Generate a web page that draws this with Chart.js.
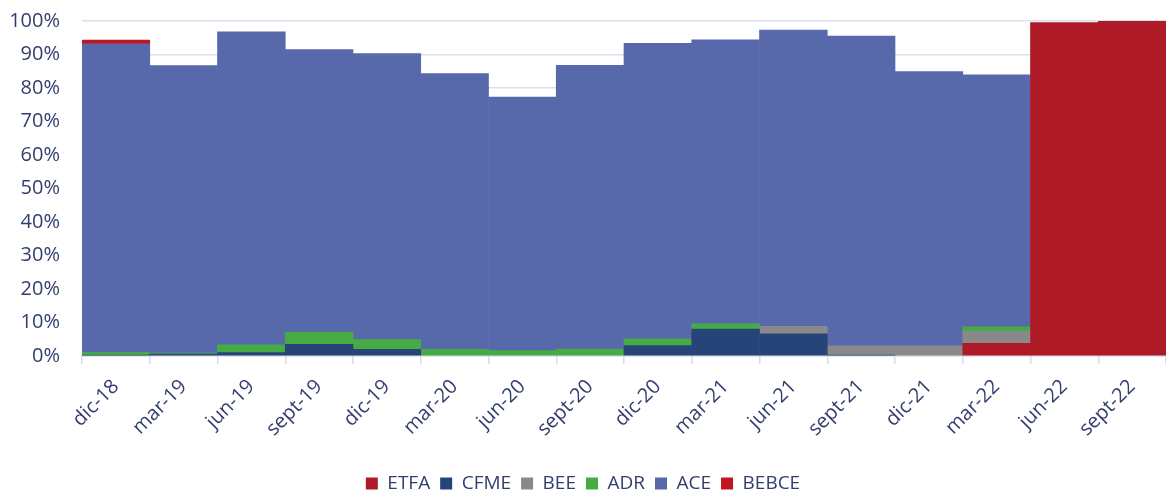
<!DOCTYPE html>
<html>
<head>
<meta charset="utf-8">
<script src="https://cdn.jsdelivr.net/npm/chart.js@4"></script>
<style>
  html, body { margin: 0; padding: 0; background: #fff; }
  #wrap { width: 1166px; height: 494px; }
</style>
</head>
<body>
<div id="wrap"><canvas id="chart"></canvas></div>
<script>
// Data (percent of total)
const categories = ['dic-18', 'mar-19', 'jun-19', 'sept-19', 'dic-19', 'mar-20', 'jun-20', 'sept-20',
  'dic-20', 'mar-21', 'jun-21', 'sept-21', 'dic-21', 'mar-22', 'jun-22', 'sept-22'];

const etfa  = [null, null, null, null, null, null, null, null, null, null, null, null, null, 3.8, 99.5, 99.9];
const cfme  = [0.3, 0.6, 1.0, 3.5, 2.0, null, null, null, 3.1, 8.0, 6.6, 0.3, null, null, null, null];
const bee   = [null, null, null, null, null, null, null, null, null, null, 2.2, 2.7, 3.0, 3.6, null, null];
const adr   = [0.8, 0.3, 2.3, 3.6, 2.9, 2.0, 1.6, 2.1, 2.0, 1.6, null, null, null, 1.3, null, null];
const ace   = [92.1, 85.8, 93.5, 84.4, 85.4, 82.3, 75.7, 84.7, 88.2, 84.8, 88.5, 92.5, 81.9, 75.2, null, null];
const bebce = [1.1, null, null, null, null, null, null, null, null, null, null, null, null, null, null, null];

const yTicks = [0, 10, 20, 30, 40, 50, 60, 70, 80, 90, 100];

const textColor = '#333e6e';
const fontFamily = "'Open Sans', 'Noto Sans', sans-serif";

const makeSet = (label, data, color) => ({
  label: label,
  data: data,
  backgroundColor: color,
  borderWidth: 0,
  categoryPercentage: 1.0,
  barPercentage: 1.0,
});

const ctx = document.getElementById('chart').getContext('2d');

const myChart = new Chart(ctx, {
  type: 'bar',
  data: {
    labels: categories,
    datasets: [
      makeSet('ETFA', etfa, '#ae1a25'),
      makeSet('CFME', cfme, '#264478'),
      makeSet('BEE', bee, '#898989'),
      makeSet('ADR', adr, '#46ab45'),
      makeSet('ACE', ace, '#5869ab'),
      makeSet('BEBCE', bebce, '#c0161f'),
    ],
  },
  options: {
    responsive: true,
    maintainAspectRatio: false,
    animation: false,
    layout: {
      padding: { left: 0, right: 0, top: 21, bottom: -9 },
    },
    plugins: {
      legend: {
        position: 'bottom',
        labels: {
          boxWidth: 12,
          boxHeight: 12,
          padding: 10,
          color: textColor,
          font: { family: fontFamily, size: 19 },
        },
      },
      tooltip: { enabled: false },
    },
    scales: {
      x: {
        stacked: true,
        afterFit: (scale) => {
          scale.paddingLeft = 0;
          scale.paddingRight = 0;
          scale.height = 108;
        },
        grid: {
          offset: true,
          drawOnChartArea: false,
          drawTicks: true,
          tickLength: 8,
          color: '#d6daea',
          lineWidth: 1.5,
        },
        border: { color: '#d6daea', width: 1.5 },
        ticks: {
          color: textColor,
          font: { family: fontFamily, size: 20 },
          minRotation: 45,
          maxRotation: 45,
          autoSkip: false,
          padding: 11,
        },
      },
      y: {
        stacked: true,
        min: 0,
        max: 100,
        afterBuildTicks: (axis) => {
          axis.ticks = yTicks.map((v) => ({ value: v }));
        },
        afterFit: (scale) => {
          scale.width = 82;
          scale.paddingTop = 0;
          scale.paddingBottom = 0;
        },
        grid: {
          drawTicks: false,
          color: '#dcdfee',
          lineWidth: 1.5,
        },
        border: { display: false },
        ticks: {
          color: textColor,
          font: { family: fontFamily, size: 20 },
          padding: 22,
          callback: (v) => v + '%',
        },
      },
    },
  },
});
</script>
</body>
</html>
